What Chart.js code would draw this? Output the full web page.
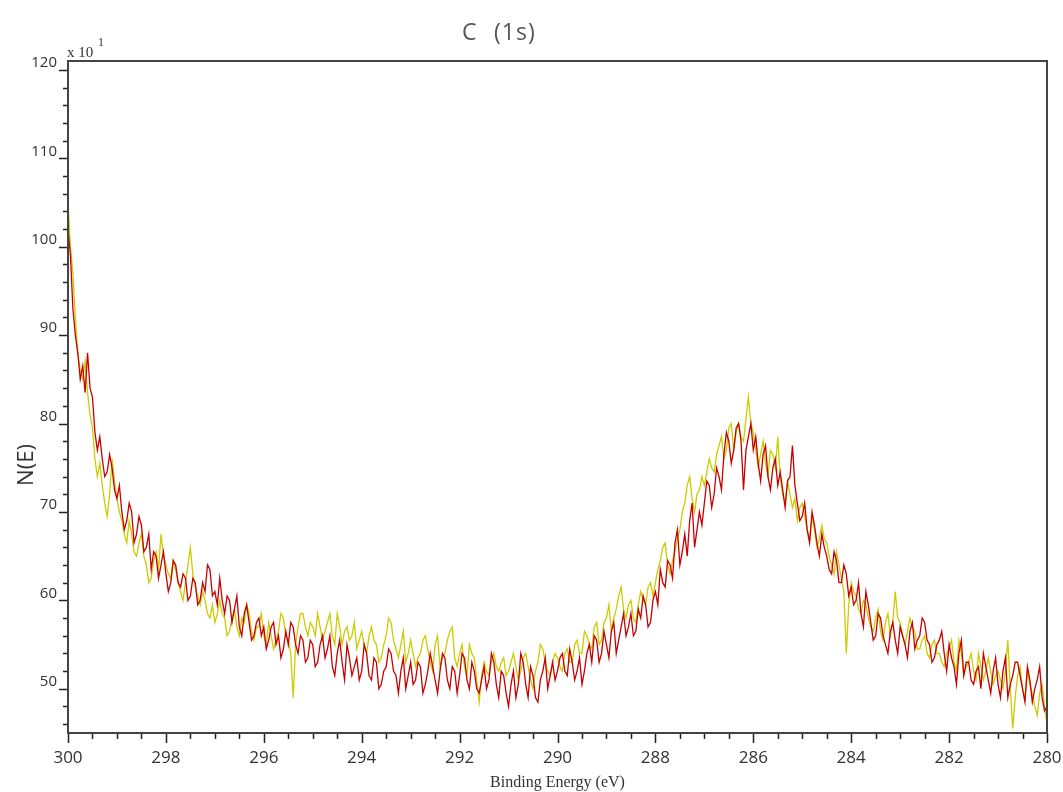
<!DOCTYPE html>
<html>
<head>
<meta charset="utf-8">
<script src="https://cdn.jsdelivr.net/npm/chart.js@4"></script>
<style>
  body { margin: 0; background: #fff; }
  #wrap { width: 1063px; height: 792px; }
</style>
</head>
<body>
<div id="wrap"><canvas id="xps"></canvas></div>
<script>
// binding energy grid: 300 -> 280 eV, 0.05 eV per sample
const eStart = 300;
const eStep = 0.05;

// counts (x10), one row per eV
const redCounts = [
  102, 99, 93, 90, 88, 85, 86.5, 83.5, 88, 84, 83, 79, 77, 78.5, 76, 74, 74.5, 76.5, 75, 72.5,
  71.5, 73, 70, 68, 69, 71, 70, 66.5, 67.5, 69.5, 68.5, 65.5, 66, 67.5, 63.5, 65.5, 65, 62.5, 64, 65.5,
  63, 61, 62, 64.5, 64, 62, 61.5, 63, 62.5, 60, 60.5, 62.5, 62, 59.5, 60, 62, 61, 64, 63.5, 60.5,
  61, 59.5, 62.5, 60, 58.5, 60.5, 60, 57.5, 59, 60.5, 57, 56, 58.5, 59.5, 57.5, 55.5, 56, 57.5, 58, 56,
  57, 54.5, 55.5, 57, 57.5, 55, 56, 53.5, 54.5, 56.5, 55, 57.5, 57, 55, 54, 56, 55.5, 53, 53.5, 55.5,
  55, 52.5, 53, 55, 56, 53.5, 54.5, 56, 52.5, 51.5, 54, 55.5, 53, 51, 55, 53.5, 51.5, 52.5, 53.5, 51,
  52, 55, 54, 51.5, 51, 53.5, 53, 50, 50.5, 52, 52.5, 54.5, 54, 52, 51.5, 49.5, 52, 53.5, 50, 51.5,
  53, 50.5, 51, 53, 52.5, 49.5, 50.5, 52, 54, 52.5, 51, 49.5, 52, 54, 53.5, 51, 50, 52.5, 52, 49.5,
  51.5, 54, 53.5, 51, 50, 53, 52, 50, 49.5, 51, 52.5, 50, 51, 54, 53, 50.5, 49, 52, 51.5, 49.5,
  48, 50.5, 52, 49, 50.5, 54, 53, 50.5, 49, 52.5, 51.5, 49, 48.5, 51, 52, 53.5, 50, 51.5, 53, 51,
  52, 53.5, 54, 52, 51.5, 54.5, 53, 51, 52, 53.5, 50.5, 52, 54, 55, 53, 56, 55.5, 53, 54, 56.5,
  55, 53.5, 56.5, 57.5, 54, 55.5, 57, 58.5, 56, 57, 58.5, 56, 56.5, 59, 58, 60.5, 59.5, 57, 57.5, 60,
  61, 59.5, 63.5, 62, 61.5, 64.5, 64, 62.5, 66.5, 68, 64, 65.5, 67.5, 65, 69, 71, 66, 68, 70, 68.5,
  71, 73.5, 73, 70.5, 72, 75, 74, 72.5, 76.5, 79, 78, 75.5, 77, 79.5, 80, 78, 72.5, 77, 78.5, 80,
  77, 78.5, 75.5, 73.5, 76.5, 77.5, 74, 72.5, 75, 76, 73, 74.5, 72.5, 70.5, 73.5, 74, 77.5, 73, 71, 69,
  69.5, 71, 68, 66.5, 70, 68.5, 66.5, 65, 67.5, 66, 65, 63.5, 63, 65.5, 64.5, 62, 62, 64, 63, 60.5,
  61.5, 59.5, 60, 62, 58.5, 57, 61, 59.5, 57.5, 55.5, 56, 58.5, 58, 56, 55, 54, 56.5, 57.5, 55.5, 54,
  57, 56, 55, 53.5, 56.5, 57.5, 54.5, 55.5, 56, 58, 57.5, 55.5, 55, 53, 53.5, 55, 55.5, 56.5, 54, 52,
  55, 53.5, 52.5, 50.5, 54, 55.5, 51.5, 53, 53, 51, 50.5, 52, 52.5, 50, 54, 52.5, 51, 49.5, 52, 53.5,
  50.5, 49, 52, 53.5, 49, 50.5, 51.5, 53, 53, 51.5, 50, 48.5, 52.5, 51, 48.5, 50, 51, 52.5, 49, 47.5,
  48
];

const yellowCounts = [
  105, 100, 97, 92, 88, 86, 85, 87, 83.5, 81, 79.5, 76, 74, 75.5, 73, 71, 69.5, 72, 76, 73.5,
  71.5, 70, 69, 67.5, 66.5, 69, 67.5, 65.5, 65, 66.5, 67.5, 65, 64, 62, 62.5, 64.5, 65.5, 63.5, 67.5, 65,
  64, 63, 62.5, 64.5, 63.5, 62, 61, 60, 62, 64, 66, 63, 61.5, 60.5, 59.5, 61, 60, 58.5, 58, 59.5,
  57.5, 58.5, 60, 58.5, 58, 56, 56.5, 58, 59, 57, 56, 58, 57.5, 59.5, 58.5, 56.5, 55.5, 57, 57, 58.5,
  56, 55, 57.5, 56, 54.5, 55.5, 56.5, 58.5, 58, 56, 55.5, 54, 49, 55, 57, 58.5, 58.5, 57, 56, 57.5,
  57, 56, 58.5, 57, 55.5, 56.5, 57.5, 58.5, 56, 55, 58.5, 57, 55, 56.5, 57, 55.5, 56, 57.5, 54.5, 55.5,
  56.5, 55, 54, 56, 57, 55.5, 55, 53, 53.5, 55, 56, 58, 57.5, 55.5, 54.5, 53.5, 55, 56.5, 53, 54,
  55.5, 54, 52.5, 53.5, 54, 55.5, 56, 54.5, 53, 52, 55, 56, 52.5, 53.5, 54, 55.5, 56.5, 57, 53.5, 52.5,
  54, 55, 52.5, 51.5, 55, 54, 53.5, 51, 48.5, 51.5, 53, 52, 51.5, 53, 54, 52.5, 52, 53, 53.5, 51.5,
  52, 53, 54, 52.5, 51, 52, 53.5, 54, 52.5, 51, 50, 52, 53, 55, 54.5, 53, 52, 51.5, 53, 54,
  53.5, 52.5, 52, 54, 54.5, 53, 53, 55, 55.5, 54, 54, 56.5, 56, 55, 54.5, 57, 57.5, 55, 55.5, 57.5,
  58, 59.5, 56.5, 58, 59, 60.5, 61.5, 59, 58, 59.5, 60, 58, 57.5, 59.5, 61, 60, 59.5, 61.5, 62, 60.5,
  62, 63.5, 64.5, 66, 66.5, 64, 63, 64.5, 65.5, 67, 68, 70, 71, 73, 74, 71.5, 70, 72, 72.5, 74,
  73, 74.5, 76, 75, 74.5, 76.5, 77.5, 78.5, 76, 77, 79.5, 80, 77, 79, 80, 78.5, 78, 80.5, 83, 80,
  79, 77, 75, 76.5, 78, 75.5, 74, 77, 76.5, 75, 78.5, 74, 72, 71, 73.5, 72, 70.5, 71.5, 69, 70.5,
  71, 69.5, 68, 67, 69.5, 68, 66, 67, 68.5, 67, 66.5, 65, 64, 63, 65.5, 64, 62.5, 61, 54, 59.5,
  62, 61, 60.5, 59, 58.5, 60, 59.5, 58, 57, 56.5, 58, 59, 56.5, 55.5, 57.5, 58.5, 56, 57.5, 61, 58,
  57.5, 56, 55, 56.5, 58, 57, 56.5, 54.5, 54.5, 55.5, 56, 54, 53.5, 55, 55.5, 54, 54, 53, 52.5, 54,
  54.5, 55.5, 53, 52, 55.5, 54, 51.5, 52.5, 53, 54, 52, 51, 54, 52.5, 51, 52, 53.5, 52, 50.5, 51.5,
  52, 51, 50, 52, 55.5, 50, 45.5, 49, 51.5, 52.5, 50, 49, 52, 50.5, 49.5, 48, 47, 49.5, 50.5, 48,
  46
];

// labelled ticks
const xTickLabels = [300, 298, 296, 294, 292, 290, 288, 286, 284, 282, 280];
const yTickLabels = [50, 60, 70, 80, 90, 100, 110, 120];

function toPoints(arr) {
  return arr.map((v, i) => ({ x: +(eStart - i * eStep).toFixed(2), y: v }));
}

// tick marks, frame, title and the extra labels
const decor = {
  id: 'decor',
  afterDraw(chart) {
    const { ctx, chartArea: a, scales } = chart;
    const xs = scales.x, ys = scales.y;
    ctx.save();
    ctx.strokeStyle = '#222';
    ctx.lineWidth = 1.5;
    ctx.beginPath();
    for (let k = 0; k <= 40; k++) {
      const v = 280 + k * 0.5;
      const px = Math.round(xs.getPixelForValue(v)) + 0.5;
      const len = k % 4 === 0 ? 10 : 6;
      ctx.moveTo(px, a.bottom);
      ctx.lineTo(px, a.bottom + len);
    }
    for (let v = 46; v <= 120; v += 2) {
      const py = Math.round(ys.getPixelForValue(v)) + 0.5;
      const len = v % 10 === 0 ? 9 : 5;
      ctx.moveTo(a.left, py);
      ctx.lineTo(a.left - len, py);
    }
    ctx.stroke();

    ctx.strokeStyle = '#444';
    ctx.lineWidth = 2;
    ctx.strokeRect(a.left, a.top, a.right - a.left, a.bottom - a.top);

    // title
    ctx.fillStyle = '#555';
    ctx.font = '23px "Open Sans"';
    ctx.textBaseline = 'middle';
    ctx.textAlign = 'left';
    ctx.fillText('C', 462, 33);
    ctx.letterSpacing = '1px';
    ctx.fillText('(1s)', 494, 33);
    ctx.letterSpacing = '0px';

    ctx.fillStyle = '#333';
    ctx.font = '15px "Liberation Serif"';
    ctx.textBaseline = 'alphabetic';
    ctx.fillText('x 10', a.left - 1, a.top - 4);
    ctx.font = '12px "Liberation Serif"';
    ctx.fillText('1', a.left + 30, a.top - 15);

    ctx.font = '22px "Open Sans"';
    ctx.textAlign = 'center';
    ctx.textBaseline = 'middle';
    ctx.translate(27, 465);
    ctx.rotate(-Math.PI / 2);
    ctx.fillText('N(E)', 0, 0);
    ctx.restore();
  }
};

new Chart(document.getElementById('xps'), {
  type: 'line',
  data: {
    datasets: [
      { label: 'red', data: toPoints(redCounts), borderColor: 'rgb(200,0,0)', borderWidth: 1.3 },
      { label: 'yellow', data: toPoints(yellowCounts), borderColor: 'rgb(204,204,0)', borderWidth: 1.3 }
    ]
  },
  options: {
    responsive: true,
    maintainAspectRatio: false,
    animation: false,
    layout: { padding: { left: 0, right: 16, top: 61, bottom: 0 } },
    elements: { point: { radius: 0 }, line: { tension: 0 } },
    plugins: {
      legend: { display: false },
      tooltip: { enabled: false },
      title: { display: false }
    },
    scales: {
      x: {
        type: 'linear',
        reverse: true,
        min: 280,
        max: 300,
        grid: { display: false, drawTicks: false },
        border: { display: false },
        ticks: {
          autoSkip: false,
          maxRotation: 0,
          padding: 15,
          color: '#333',
          font: { family: '"Open Sans"', size: 17 }
        },
        afterBuildTicks: (s) => { s.ticks = xTickLabels.map(v => ({ value: v })); },
        title: {
          display: true,
          text: 'Binding Energy (eV)',
          color: '#333',
          font: { family: '"Liberation Serif"', size: 16 },
          padding: { top: 0, bottom: 0 }
        },
        afterFit: (s) => { s.height = 59; s.paddingLeft = 0; s.paddingRight = 0; }
      },
      y: {
        min: 45,
        max: 121,
        grid: { display: false, drawTicks: false },
        border: { display: false },
        ticks: {
          autoSkip: false,
          padding: 11,
          labelOffset: -7,
          color: '#333',
          font: { family: '"Open Sans"', size: 15 }
        },
        afterBuildTicks: (s) => { s.ticks = yTickLabels.map(v => ({ value: v })); },
        afterFit: (s) => { s.width = 68; s.paddingTop = 0; s.paddingBottom = 0; }
      }
    }
  },
  plugins: [decor]
});
</script>
</body>
</html>
